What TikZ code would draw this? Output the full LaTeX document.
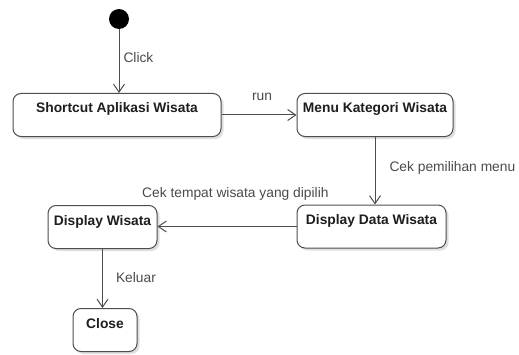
\documentclass[tikz,border=0pt]{standalone}
\usepackage{fontspec}
\setmainfont{Liberation Sans}
\usepackage{xcolor}
\usetikzlibrary{arrows.meta,shadows,positioning,calc}

\definecolor{lineclr}{HTML}{4D4D4D}
\definecolor{labelclr}{HTML}{4A4A4A}
\definecolor{titleclr}{HTML}{1E1E1E}

\begin{document}
\begin{tikzpicture}[x=1pt, y=1pt,
		state/.style={draw=lineclr, line width=1pt, rounded corners=8pt, fill=white,
			drop shadow={shadow xshift=2.5pt, shadow yshift=-2.5pt, fill=black!25, opacity=0.5},
			inner xsep=0pt, inner ysep=0pt, text height=19.5pt, text depth=23.5pt,
			font=\fontsize{13.8}{16}\selectfont\bfseries, text=titleclr},
		trans/.style={draw=lineclr, line width=1pt, -{Straight Barb[length=8pt, width=11pt]}},
		lbl/.style={font=\fontsize{13.8}{16}\selectfont, text=labelclr, inner sep=0pt}]
		\useasboundingbox (0,0) rectangle (519,354);

		% states
		\node[circle, fill=black, minimum size=20pt, inner sep=0pt] (start) at (119,335) {};
		\node[state, minimum width=208pt] (shortcut) at (117,239) {Shortcut Aplikasi Wisata};
		\node[state, minimum width=156pt] (kategori) at (375,239) {Menu Kategori Wisata};
		\node[state, minimum width=149pt] (datawisata) at (371.5,127.5) {Display Data Wisata};
		\node[state, minimum width=109pt] (display) at (102.5,127) {Display Wisata};
		\node[state, minimum width=64pt] (close) at (105,24) {Close};

		% transitions
		\draw[trans] (start) -- (start |- shortcut.north) node[lbl, pos=0.44, right=4pt] {Click};
		\draw[trans] (shortcut.east) -- (kategori.west) node[lbl, pos=0.54, above=14pt] {run};
		\draw[trans] (kategori.south) -- (kategori.south |- datawisata.north) node[lbl, pos=0.46, right=14pt] {Cek pemilihan menu};
		\draw[trans] (datawisata.west) -- (datawisata.west -| display.east) node[lbl, pos=0.44, above=25.6pt] {Cek tempat wisata yang dipilih};
		\draw[trans] (display.south) -- (display.south |- close.north) node[lbl, pos=0.48, right=13pt] {Keluar};
	\end{tikzpicture}
\end{document}
